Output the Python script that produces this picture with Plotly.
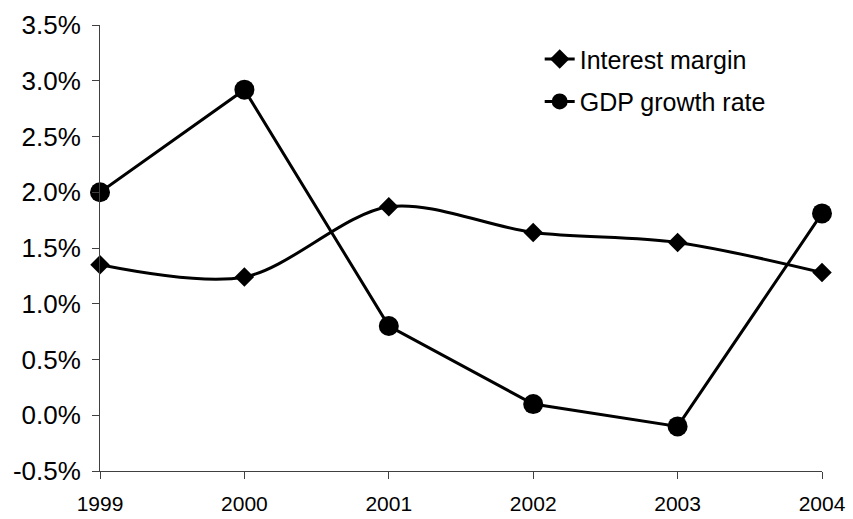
import plotly.graph_objects as go

years = [1999, 2000, 2001, 2002, 2003, 2004]
interest_margin = [1.35, 1.24, 1.87, 1.64, 1.55, 1.28]
gdp_growth = [2.0, 2.92, 0.80, 0.10, -0.10, 1.81]
y_ticks = [-0.5, 0.0, 0.5, 1.0, 1.5, 2.0, 2.5, 3.0, 3.5]
y_tick_labels = [f"{v:.1f}%" for v in y_ticks]

FONT = "Liberation Sans, Arial, sans-serif"

fig = go.Figure()
fig.add_trace(go.Scatter(
    x=years, y=interest_margin, name="Interest margin",
    mode="lines+markers", legendgroup="a",
    line=dict(color="black", width=3, shape="spline", smoothing=0.9),
    marker=dict(symbol="diamond", size=15, color="black"),
    cliponaxis=False,
))
fig.add_trace(go.Scatter(
    x=years, y=gdp_growth, name="GDP growth rate",
    mode="lines+markers", legendgroup="b",
    line=dict(color="black", width=3),
    marker=dict(symbol="circle", size=20, color="black"),
    cliponaxis=False,
))

fig.update_layout(
    width=853, height=519,
    margin=dict(l=100, r=31, t=25, b=48, autoexpand=False),
    paper_bgcolor="white", plot_bgcolor="white",
    font=dict(family=FONT, color="black", size=21),
    showlegend=True,
    legend=dict(
        x=0.609, y=0.975, xanchor="left", yanchor="top",
        bgcolor="rgba(0,0,0,0)", borderwidth=0,
        font=dict(size=25), tracegroupgap=7,
        traceorder="grouped",
    ),
    xaxis=dict(
        range=[1999, 2004], tickvals=years, ticktext=[str(y) for y in years],
        showline=True, linecolor="#404040", linewidth=1,
        ticks="outside", ticklen=7, tickcolor="#404040",
        showgrid=False, zeroline=False, ticklabelstandoff=7,
        tickfont=dict(size=21), automargin=False,
    ),
    yaxis=dict(
        range=[-0.5, 3.5], tickvals=y_ticks, ticktext=y_tick_labels,
        showline=True, linecolor="#404040", linewidth=1,
        ticks="outside", ticklen=7, tickcolor="#404040",
        showgrid=False, zeroline=False, ticklabelstandoff=6,
        tickfont=dict(size=26), automargin=False,
    ),
)

fig.write_html("out.html")
